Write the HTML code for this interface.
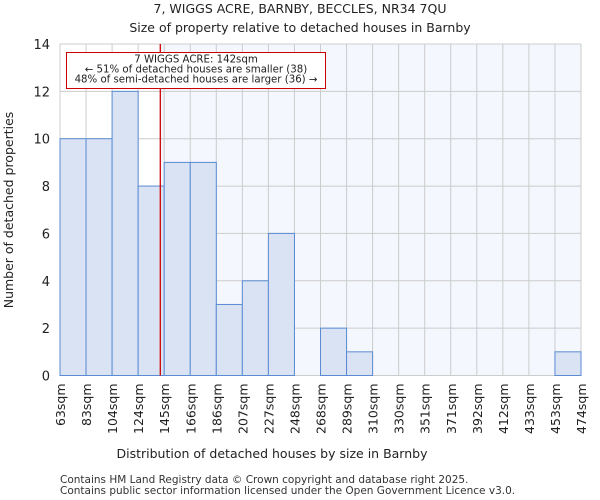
<!DOCTYPE html>
<html><head><meta charset="utf-8"><style>
body{margin:0;background:#fff;}
svg{display:block;font-family:"DejaVu Sans","Liberation Sans",sans-serif;}
</style></head><body>
<svg id="chart" width="600" height="500">
<text x="300" y="13" text-anchor="middle" font-size="12.5" fill="#222">7, WIGGS ACRE, BARNBY, BECCLES, NR34 7QU</text>
<text x="300" y="32" text-anchor="middle" font-size="12.5" fill="#222">Size of property relative to detached houses in Barnby</text>
<g id="plot"></g>
<text x="272" y="458" text-anchor="middle" font-size="12.5" fill="#222">Distribution of detached houses by size in Barnby</text>
<text transform="translate(13,210) rotate(-90)" text-anchor="middle" font-size="12.5" fill="#222">Number of detached properties</text>
<text x="60" y="483" font-size="10.5" fill="#333">Contains HM Land Registry data © Crown copyright and database right 2025.</text>
<text x="60" y="494" font-size="10.5" fill="#333">Contains public sector information licensed under the Open Government Licence v3.0.</text>
</svg>
<script>
const categories=["63sqm","83sqm","104sqm","124sqm","145sqm","166sqm","186sqm","207sqm","227sqm","248sqm","268sqm","289sqm","310sqm","330sqm","351sqm","371sqm","392sqm","412sqm","433sqm","453sqm","474sqm"];
const counts=[10,10,12,8,9,9,3,4,6,0,2,1,0,0,0,0,0,0,0,1];
const yTicks=[0,2,4,6,8,10,12,14];
const propertyBinPos=[3.85];
const NS="http://www.w3.org/2000/svg";
const g=document.getElementById('plot');
const X0=60,X1=581,Y0=375.5,Y1=44,nb=counts.length;
const bw=(X1-X0)/nb;
const xs=i=>X0+i*bw;
const ys=v=>Y0-(v/14)*(Y0-Y1);
function mk(t,a){const e=document.createElementNS(NS,t);for(const k in a)e.setAttribute(k,a[k]);g.appendChild(e);return e;}
const px=xs(propertyBinPos[0]);
let e=mk('rect',{x:px,y:Y1,width:X1-px,height:Y0-Y1,fill:'#f4f7fd'});


yTicks.forEach(t=>{let l=mk('line',{x1:X0,x2:X1,y1:ys(t),y2:ys(t),stroke:'#cccccc','stroke-width':1});


let tx=mk('text',{x:X0-10,y:ys(t)+5,'text-anchor':'end','font-size':13,fill:'#222'});tx.textContent=t;

});
for(let i=0;i<=nb;i++){let l=mk('line',{x1:xs(i),x2:xs(i),y1:Y1,y2:Y0,stroke:'#cccccc','stroke-width':1});

}
counts.forEach((c,i)=>{if(!c)return;let r=mk('rect',{x:xs(i),y:ys(c),width:bw,height:Y0-ys(c),fill:'#d9e3f4',stroke:'#5b8bd3','stroke-width':1});

});
categories.forEach((c,i)=>{let tx=mk('text',{transform:`translate(${xs(i)+5},${Y0+8}) rotate(-90)`,'text-anchor':'end','font-size':12.5,fill:'#222'});tx.textContent=c;

});
let rl=mk('line',{x1:px,x2:px,y1:Y1,y2:Y0,stroke:'#cc0000','stroke-width':1.3});


let box=mk('rect',{x:66.5,y:52.5,width:259,height:36,fill:'#fff',stroke:'#cc0000','stroke-width':1});


["7 WIGGS ACRE: 142sqm","← 51% of detached houses are smaller (38)","48% of semi-detached houses are larger (36) →"].forEach((s,i)=>{let tx=mk('text',{x:196,y:62.5+i*10,'text-anchor':'middle','font-size':10.2,fill:'#222'});tx.textContent=s;

});
</script>
</body></html>
